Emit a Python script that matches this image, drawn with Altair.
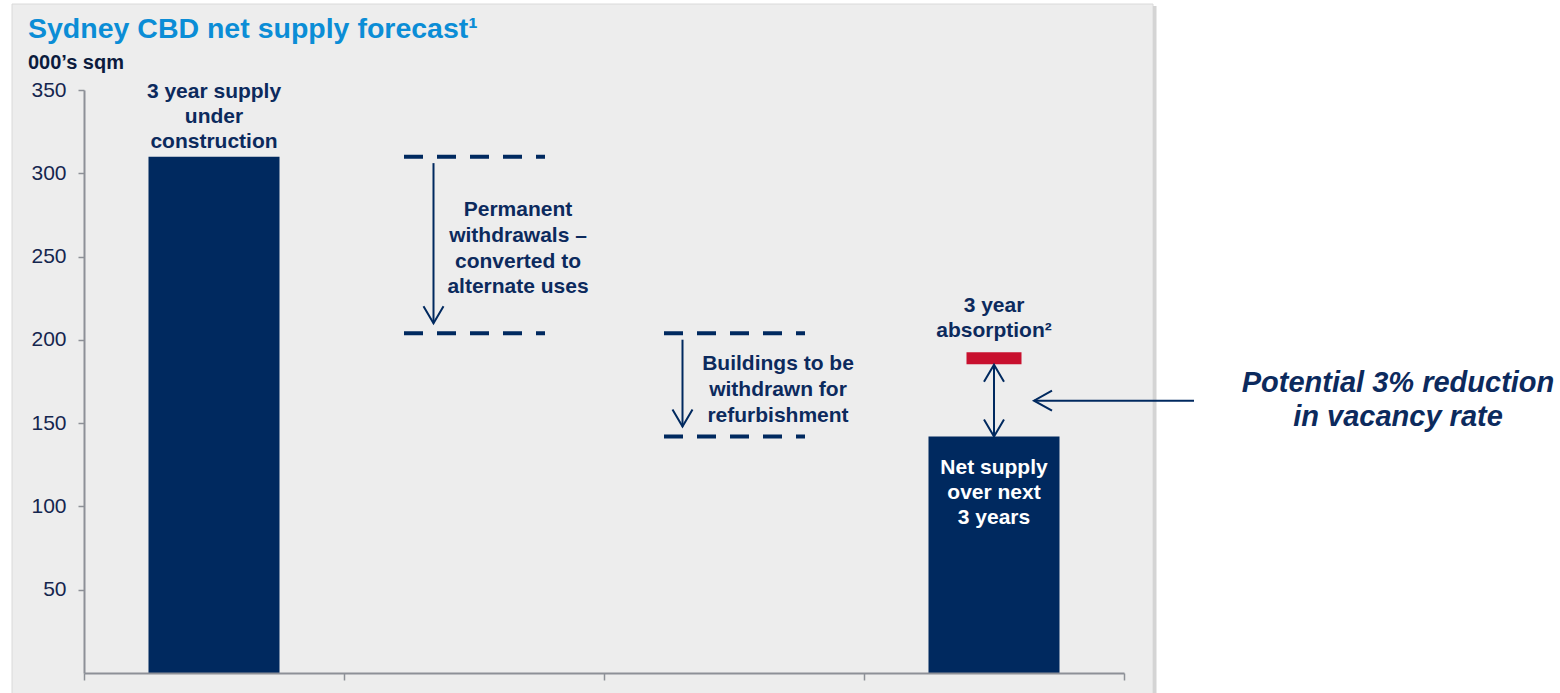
import altair as alt
import pandas as pd

# ---------------- data ----------------
category_order = ["Supply under construction", "Permanent withdrawals",
                  "Refurbishment withdrawals", "Net supply"]

bar_categories = ["Supply under construction", "Net supply"]
bar_values = [310, 142]
bar_labels = ["3 year supply\nunder\nconstruction", "Net supply\nover next\n3 years"]

step_categories = ["Permanent withdrawals", "Refurbishment withdrawals"]
step_from = [310, 204]
step_to = [204, 142]
step_labels = ["Permanent\nwithdrawals –\nconverted to\nalternate uses",
               "Buildings to be\nwithdrawn for\nrefurbishment"]

absorption_category = "Net supply"
absorption_value = 189
absorption_label = "3 year\nabsorption²"

annotation_label = "Potential 3% reduction\nin vacancy rate"

y_tick_values = [50, 100, 150, 200, 250, 300, 350]
x_tick_values = [0, 1, 2, 3, 4]

title_text = "Sydney CBD net supply forecast¹"
unit_text = "000’s sqm"

# ---------------- styles ----------------
NAVY = "#00295f"
TEXT_NAVY = "#0c2a5d"
RED = "#c8102e"
AXIS_GREY = "#8d9097"
PANEL = "#ededed"
FONT = "Liberation Sans"

DOWN = "M-1,-1.7L0,0L1,-1.7"
UP = "M-1,1.7L0,0L1,1.7"
LEFT = "M1.8,-1L0,0L1.8,1"


def slot(c):
    return category_order.index(c) + 0.5


bars_df = pd.DataFrame({"category": bar_categories, "value": bar_values, "label": bar_labels})
bars_df["slot"] = bars_df["category"].map(slot)

steps_df = pd.DataFrame({"category": step_categories, "top": step_from,
                         "bottom": step_to, "label": step_labels})
steps_df["slot"] = steps_df["category"].map(slot)

levels_df = pd.concat([
    steps_df[["category", "slot", "top"]].rename(columns={"top": "level"}),
    steps_df[["category", "slot", "bottom"]].rename(columns={"bottom": "level"}),
], ignore_index=True)

net_value = bar_values[bar_categories.index(absorption_category)]
gap_df = pd.DataFrame({
    "category": [absorption_category],
    "slot": [slot(absorption_category)],
    "absorption": [absorption_value],
    "net": [net_value],
    "label": [absorption_label],
    "note": [annotation_label],
})

one_row = pd.DataFrame({"panel": [0]})

# ---------------- scales / axes ----------------
x_scale = alt.Scale(domain=[0, len(category_order)], nice=False, zero=False, padding=0)
y_scale = alt.Scale(domain=[0, 350], nice=False)

x_axis = alt.Axis(values=x_tick_values, labels=False, title=None, grid=False,
                  tickSize=7, tickWidth=1.5, tickColor=AXIS_GREY,
                  domainColor=AXIS_GREY, domainWidth=2, zindex=1)
y_axis = alt.Axis(values=y_tick_values, title=None, grid=False,
                  tickSize=6, tickWidth=1.5, tickColor=AXIS_GREY,
                  domainColor=AXIS_GREY, domainWidth=2,
                  labelFont=FONT, labelFontSize=21, labelColor="#15264f",
                  labelPadding=12, zindex=1)


def X():
    return alt.X("slot:Q", scale=x_scale, axis=x_axis)


def Y(field):
    return alt.Y(f"{field}:Q", scale=y_scale, axis=y_axis)


def label_text(**kw):
    base = dict(align="center", baseline="alphabetic", font=FONT, fontSize=21,
                fontWeight="bold", lineHeight=25.5, lineBreak="\n", color=TEXT_NAVY)
    base.update(kw)
    return base


# ---------------- layers ----------------
panel = alt.Chart(one_row).mark_rect(fill=PANEL, stroke="#dadada", strokeWidth=1).encode(
    x=alt.value(-72), x2=alt.value(1069), y=alt.value(-86), y2=alt.value(620))
shadow = alt.Chart(one_row).mark_rect(fill="#d4d4d4").encode(
    x=alt.value(1069), x2=alt.value(1072.5), y=alt.value(-84), y2=alt.value(620))

bars = alt.Chart(bars_df).mark_bar(size=131, color=NAVY, opacity=1, orient="vertical").encode(
    x=X(), y=Y("value"))

levels = alt.Chart(levels_df).mark_rule(
    color=NAVY, strokeWidth=4, strokeDash=[19, 14], xOffset=-70, x2Offset=71, opacity=1
).encode(x=X(), x2=alt.X2("slot"), y=Y("level"))

step_layers = []
for cat, off, tdy in zip(step_categories, [-40.5, -51.5], [-28.9, -14.9]):
    base = alt.Chart(steps_df).transform_filter(alt.datum.category == cat)
    step_layers.append(base.mark_rule(color=NAVY, strokeWidth=2, xOffset=off,
                                      yOffset=6.5, y2Offset=-10, opacity=1).encode(
        x=X(), y=Y("top"), y2=alt.Y2("bottom")))
    step_layers.append(base.mark_point(shape=DOWN, size=400, filled=False, color=NAVY,
                                       strokeWidth=2, xOffset=off, yOffset=-10, opacity=1).encode(
        x=X(), y=Y("bottom")))
    step_layers.append(base.transform_calculate(
        mid="(datum.top + datum.bottom) / 2"
    ).mark_text(**label_text(dx=44, dy=tdy, lineHeight=25.8)).encode(
        x=X(), y=Y("mid"), text="label:N"))

supply_text = alt.Chart(bars_df).transform_filter(
    alt.datum.category == bar_categories[0]
).mark_text(**label_text(dy=-58.5, lineHeight=25)).encode(
    x=X(), y=Y("value"), text="label:N")

net_text = alt.Chart(bars_df).transform_filter(
    alt.datum.category == bar_categories[1]
).mark_text(**label_text(dy=38, lineHeight=25, color="#ffffff")).encode(
    x=X(), y=Y("value"), text="label:N")

absorption_mark = alt.Chart(gap_df).mark_tick(
    orient="horizontal", size=55, thickness=12, color=RED, opacity=1
).encode(x=X(), y=Y("absorption"))

gap_rule = alt.Chart(gap_df).mark_rule(color=NAVY, strokeWidth=2, yOffset=6.5, opacity=1).encode(
    x=X(), y=Y("absorption"), y2=alt.Y2("net"))
gap_up = alt.Chart(gap_df).mark_point(shape=UP, size=400, filled=False, color=NAVY,
                                      strokeWidth=2, yOffset=6.5, opacity=1).encode(
    x=X(), y=Y("absorption"))
gap_down = alt.Chart(gap_df).mark_point(shape=DOWN, size=400, filled=False, color=NAVY,
                                        strokeWidth=2, opacity=1).encode(
    x=X(), y=Y("net"))

absorption_text = alt.Chart(gap_df).mark_text(
    **label_text(dy=-46.5, lineHeight=25)
).encode(x=X(), y=Y("absorption"), text="label:N")

gap_mid = alt.Chart(gap_df).transform_calculate(mid="(datum.absorption + datum.net) / 2")
note_rule = gap_mid.mark_rule(color=NAVY, strokeWidth=2, xOffset=40, x2Offset=200,
                              yOffset=3.4, opacity=1).encode(
    x=X(), x2=alt.X2("slot"), y=Y("mid"))
note_head = gap_mid.mark_point(shape=LEFT, size=400, filled=False, color=NAVY, strokeWidth=2,
                               xOffset=40, yOffset=3.4, opacity=1).encode(x=X(), y=Y("mid"))
note_text = gap_mid.mark_text(
    **label_text(fontSize=29, fontStyle="italic", lineHeight=34, dx=404, dy=-5.6)
).encode(x=X(), y=Y("mid"), text="note:N")

chart = alt.layer(
    panel, shadow, bars, levels, *step_layers, supply_text, net_text,
    absorption_mark, gap_rule, gap_up, gap_down, absorption_text,
    note_rule, note_head, note_text,
).properties(
    width=1040,
    height=583,
    padding={"left": 84, "top": 90, "right": 436, "bottom": 20},
    autosize=alt.AutoSizeParams(type="none"),
    title=alt.TitleParams(
        text=title_text, subtitle=unit_text, anchor="start", frame="group",
        dx=-56, offset=-69, subtitlePadding=9,
        font=FONT, fontSize=28.5, fontWeight="bold", color="#0b8dd6",
        subtitleFont=FONT, subtitleFontSize=20, subtitleFontWeight="bold",
        subtitleColor="#0c1b3d",
    ),
).configure_view(strokeWidth=0)

chart.save("out.html", embed_options={"renderer": "svg", "actions": False})
